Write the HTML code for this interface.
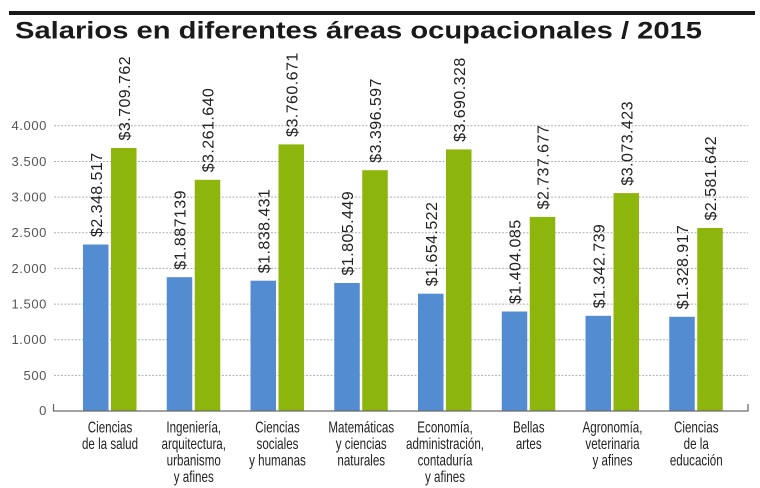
<!DOCTYPE html>
<html>
<head>
<meta charset="utf-8">
<style>
html,body{margin:0;padding:0;background:#fff;}
svg{display:block;}
text{font-family:"Liberation Sans",sans-serif;}
</style>
</head>
<body>
<svg width="760" height="488" viewBox="0 0 760 488" xmlns="http://www.w3.org/2000/svg">
<rect x="0" y="0" width="760" height="488" fill="#fff"/>
<!-- top rule -->
<rect x="9" y="11" width="746" height="4" fill="#1a1a1a"/>
<!-- title -->
<text x="15" y="38.5" font-size="24" font-weight="bold" fill="#1a1a1a" textLength="687" lengthAdjust="spacingAndGlyphs">Salarios en diferentes áreas ocupacionales / 2015</text>

<!-- gridlines -->
<g stroke="#b0b0b0" stroke-width="1" stroke-dasharray="2 1.5">
<line x1="54" x2="748" y1="375.4" y2="375.4"/>
<line x1="54" x2="748" y1="339.7" y2="339.7"/>
<line x1="54" x2="748" y1="304.1" y2="304.1"/>
<line x1="54" x2="748" y1="268.4" y2="268.4"/>
<line x1="54" x2="748" y1="232.8" y2="232.8"/>
<line x1="54" x2="748" y1="197.1" y2="197.1"/>
<line x1="54" x2="748" y1="161.5" y2="161.5"/>
<line x1="54" x2="748" y1="125.8" y2="125.8"/>
</g>

<!-- y labels -->
<g font-size="13" fill="#555" text-anchor="end" letter-spacing="0.6">
<text x="47" y="415">0</text>
<text x="47" y="380">500</text>
<text x="47" y="344">1.000</text>
<text x="47" y="308.5">1.500</text>
<text x="47" y="273">2.000</text>
<text x="47" y="237">2.500</text>
<text x="47" y="201.5">3.000</text>
<text x="47" y="166">3.500</text>
<text x="47" y="130">4.000</text>
</g>

<!-- bars -->
<g fill="#548cd2">
<rect x="83" y="244.5" width="25.5" height="166.5"/>
<rect x="166.75" y="277.2" width="25.5" height="133.8"/>
<rect x="250.5" y="280.7" width="25.5" height="130.3"/>
<rect x="334.25" y="283" width="25.5" height="128"/>
<rect x="418" y="293.7" width="25.5" height="117.3"/>
<rect x="501.75" y="311.5" width="25.5" height="99.5"/>
<rect x="585.5" y="315.8" width="25.5" height="95.2"/>
<rect x="669.25" y="316.8" width="25.5" height="94.2"/>
</g>
<g fill="#8db60c">
<rect x="111" y="148" width="25.5" height="263"/>
<rect x="194.75" y="179.8" width="25.5" height="231.2"/>
<rect x="278.5" y="144.4" width="25.5" height="266.6"/>
<rect x="362.25" y="170.2" width="25.5" height="240.8"/>
<rect x="446" y="149.4" width="25.5" height="261.6"/>
<rect x="529.75" y="216.9" width="25.5" height="194.1"/>
<rect x="613.5" y="193.1" width="25.5" height="217.9"/>
<rect x="697.25" y="228" width="25.5" height="183"/>
</g>

<!-- axis -->
<g stroke="#6a6a6a" stroke-width="1.3" fill="none">
<line x1="53" x2="748.5" y1="411" y2="411"/>
<line x1="53.5" x2="53.5" y1="404" y2="411"/>
<line x1="748" x2="748" y1="404" y2="411"/>
</g>

<!-- value labels -->
<g font-size="16" fill="#222" letter-spacing="0.45">
<text transform="translate(101.75,237) rotate(-90)">$2.348.517</text>
<text transform="translate(185.5,269.7) rotate(-90)">$1.887139</text>
<text transform="translate(269.25,273.2) rotate(-90)">$1.838.431</text>
<text transform="translate(353,275.5) rotate(-90)">$1.805.449</text>
<text transform="translate(436.75,286.2) rotate(-90)">$1.654.522</text>
<text transform="translate(520.5,304) rotate(-90)">$1.404.085</text>
<text transform="translate(604.25,308.3) rotate(-90)">$1.342.739</text>
<text transform="translate(688,309.3) rotate(-90)">$1.328.917</text>

<text transform="translate(129.75,140.5) rotate(-90)">$3.709.762</text>
<text transform="translate(213.5,172.3) rotate(-90)">$3.261.640</text>
<text transform="translate(297.25,136.9) rotate(-90)">$3.760.671</text>
<text transform="translate(381,162.7) rotate(-90)">$3.396.597</text>
<text transform="translate(464.75,141.9) rotate(-90)">$3.690.328</text>
<text transform="translate(548.5,209.4) rotate(-90)">$2.737.677</text>
<text transform="translate(632.25,185.6) rotate(-90)">$3.073.423</text>
<text transform="translate(716,220.5) rotate(-90)">$2.581.642</text>
</g>

<!-- category labels -->
<g font-size="16" fill="#222" text-anchor="middle">
<g transform="translate(110,0) scale(0.725,1)">
<text x="0" y="432.5">Ciencias</text>
<text x="0" y="449">de la salud</text>
</g>
<g transform="translate(193.75,0) scale(0.725,1)">
<text x="0" y="432.5">Ingeniería,</text>
<text x="0" y="449">arquitectura,</text>
<text x="0" y="465.5">urbanismo</text>
<text x="0" y="482">y afines</text>
</g>
<g transform="translate(277.5,0) scale(0.725,1)">
<text x="0" y="432.5">Ciencias</text>
<text x="0" y="449">sociales</text>
<text x="0" y="465.5">y humanas</text>
</g>
<g transform="translate(361.25,0) scale(0.725,1)">
<text x="0" y="432.5">Matemáticas</text>
<text x="0" y="449">y ciencias</text>
<text x="0" y="465.5">naturales</text>
</g>
<g transform="translate(445,0) scale(0.725,1)">
<text x="0" y="432.5">Economía,</text>
<text x="0" y="449">administración,</text>
<text x="0" y="465.5">contaduría</text>
<text x="0" y="482">y afines</text>
</g>
<g transform="translate(528.75,0) scale(0.725,1)">
<text x="0" y="432.5">Bellas</text>
<text x="0" y="449">artes</text>
</g>
<g transform="translate(612.5,0) scale(0.725,1)">
<text x="0" y="432.5">Agronomía,</text>
<text x="0" y="449">veterinaria</text>
<text x="0" y="465.5">y afines</text>
</g>
<g transform="translate(696.25,0) scale(0.725,1)">
<text x="0" y="432.5">Ciencias</text>
<text x="0" y="449">de la</text>
<text x="0" y="465.5">educación</text>
</g>
</g>
</svg>
</body>
</html>
